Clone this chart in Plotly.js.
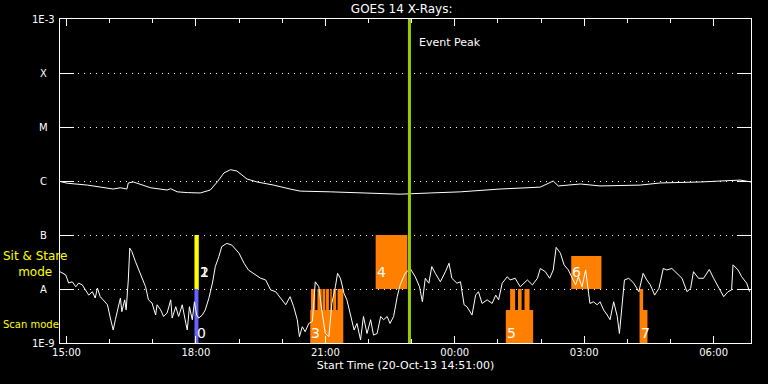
<!DOCTYPE html>
<html>
<head>
<meta charset="utf-8">
<script src="https://cdn.plot.ly/plotly-3.0.1.min.js"></script>
<style>html,body{margin:0;padding:0;background:#000;}#chart{width:768px;height:384px;}</style>
</head>
<body>
<div id="chart"></div>
<script>
// ---------- DATA ----------
// GOES 14 long channel (1-8 A), flux W/m^2
const longTime = ['14:51','15:01','15:29','16:05','16:15','16:24','16:26','16:33','16:57','17:20','17:25','17:34','17:48','18:06','18:20','18:30','18:39','18:48','18:57','19:11','19:25','19:48','20:11','20:25','21:07','21:49','22:44','23:26','00:08','01:03','01:59','02:17','02:24','02:55','03:22','04:18','04:46','05:42','06:37','06:52'];
const longFlux = [9.8e-7,9.1e-7,8.4e-7,7.1e-7,7.5e-7,7.1e-7,9.2e-7,9.6e-7,7.5e-7,6.8e-7,7.2e-7,6.3e-7,6.1e-7,6.0e-7,6.8e-7,9.7e-7,1.41e-6,1.62e-6,1.53e-6,1.09e-6,9.6e-7,8.4e-7,7.1e-7,6.5e-7,6.3e-7,6.0e-7,5.7e-7,6.0e-7,6.3e-7,7.1e-7,7.7e-7,1.0e-6,8.1e-7,8.8e-7,8.1e-7,8.4e-7,9.2e-7,9.6e-7,1.04e-6,9.6e-7];

// GOES 14 short channel (0.5-4 A), flux W/m^2
const shortTime = ['14:51','14:59','15:03','15:08','15:13','15:17','15:22','15:26','15:31','15:36','15:40','15:43','15:47','15:51','15:57','16:01','16:05','16:08','16:12','16:15','16:17','16:21','16:23','16:26','16:28','16:31','16:36','16:43','16:50','16:54','16:59','17:04','17:06','17:11','17:15','17:20','17:25','17:27','17:32','17:36','17:41','17:46','17:48','17:51','17:55','17:58','18:01','18:04','18:09','18:13','18:18','18:23','18:27','18:32','18:36','18:43','18:50','19:00','19:07','19:13','19:20','19:30','19:37','19:44','19:51','19:58','20:05','20:11','20:16','20:21','20:24','20:28','20:32','20:37','20:42','20:46','20:51','20:55','21:00','21:05','21:09','21:14','21:17','21:21','21:26','21:30','21:35','21:40','21:44','21:49','21:53','21:58','22:03','22:07','22:12','22:17','22:21','22:26','22:30','22:35','22:40','22:44','22:51','22:58','23:05','23:11','23:15','23:19','23:24','23:28','23:33','23:40','23:47','23:52','23:56','00:03','00:08','00:13','00:17','00:24','00:29','00:33','00:38','00:45','00:52','00:57','01:01','01:06','01:13','01:17','01:24','01:31','01:41','01:48','01:55','01:59','02:06','02:12','02:17','02:21','02:27','02:32','02:38','02:43','02:48','02:52','02:57','03:02','03:05','03:08','03:13','03:18','03:22','03:27','03:32','03:36','03:41','03:46','03:49','03:53','03:56','04:02','04:09','04:16','04:22','04:27','04:32','04:38','04:44','04:50','04:55','05:02','05:09','05:16','05:23','05:28','05:32','05:39','05:46','05:54','06:00','06:07','06:14','06:20','06:25','06:27','06:34','06:39','06:46','06:50'];
const shortFlux = [2.09e-8,1.82e-8,1.29e-8,1.36e-8,1.10e-8,1.29e-8,1.19e-8,9.6e-9,7.7e-9,8.9e-9,6.8e-9,1.04e-8,7.2e-9,6.3e-9,5.1e-9,2.9e-9,1.74e-9,2.7e-9,4.7e-9,6.8e-9,3.8e-9,6.3e-9,4.1e-9,1.47e-8,5.7e-8,4.9e-8,3.2e-8,1.82e-8,1.10e-8,6.3e-9,5.5e-9,3.3e-9,5.1e-9,4.1e-9,3.1e-9,3.6e-9,6.3e-9,2.9e-9,4.7e-9,3.1e-9,5.1e-9,2.3e-9,1.74e-9,4.7e-9,2.7e-9,5.8e-9,3.3e-9,2.9e-9,3.3e-9,4.1e-9,6.7e-9,1.29e-8,2.6e-8,4.0e-8,6.1e-8,7.0e-8,6.5e-8,4.6e-8,3.0e-8,2.25e-8,1.95e-8,1.58e-8,1.47e-8,9.6e-9,8.9e-9,6.7e-9,5.1e-9,7.2e-9,4.7e-9,2.7e-9,1.31e-9,2.0e-9,1.62e-9,2.3e-9,2.5e-9,1.36e-8,1.10e-8,4.1e-9,1.5e-9,1.31e-9,5.4e-9,1.10e-8,1.95e-8,1.58e-8,8.3e-9,6.3e-9,3.1e-9,1.74e-9,2.3e-9,1.14e-9,3.1e-9,1.5e-9,2.7e-9,1.4e-9,1.5e-9,3.1e-9,2.7e-9,3.1e-9,2.3e-9,3.1e-9,7.2e-9,1.19e-8,1.95e-8,2.4e-8,1.69e-8,1.10e-8,5.8e-9,1.58e-8,1.28e-8,2.6e-8,1.95e-8,1.36e-8,2.09e-8,3.0e-8,1.58e-8,1.28e-8,1.36e-8,5.1e-9,4.7e-9,3.3e-9,7.7e-9,8.9e-9,5.4e-9,6.3e-9,5.4e-9,7.7e-9,6.3e-9,1.28e-8,1.69e-8,1.47e-8,1.58e-8,1.10e-8,1.47e-8,1.19e-8,1.58e-8,2.4e-8,2.09e-8,1.58e-8,2.25e-8,5.9e-8,4.6e-8,2.8e-8,2.25e-8,1.58e-8,1.19e-8,1.69e-8,1.10e-8,2.25e-8,1.10e-8,5.4e-9,5.8e-9,5.1e-9,5.8e-9,4.1e-9,3.3e-9,2.7e-9,5.8e-9,3.1e-9,1.5e-9,6.3e-9,1.47e-8,1.58e-8,1.28e-8,8.9e-9,1.95e-8,1.47e-8,1.19e-8,7.7e-9,1.03e-8,2.4e-8,2.25e-8,2.4e-8,1.95e-8,1.58e-8,8.9e-9,1.03e-8,2.09e-8,1.58e-8,1.58e-8,2.3e-8,1.58e-8,1.10e-8,7.2e-9,8.9e-9,9.6e-9,2.8e-8,2.25e-8,1.69e-8,1.28e-8,8.9e-9];

// Observation timeline: scan-mode rasters (base level 1E-9)
const SCAN_BASE = 1e-9;
const scanStart = ['20:39','20:40','20:49','20:56','21:01','21:07','21:11','21:17','01:11','01:17','01:28','01:37','04:17','04:17'];
const scanEnd   = ['21:25','20:46','20:55','21:00','21:05','21:09','21:15','21:25','01:49','01:24','01:33','01:44','04:22','04:28'];
const scanTop   = [4.1e-9,1e-8,1e-8,1e-8,1e-8,1e-8,1e-8,1e-8,4.1e-9,1e-8,1e-8,1e-8,1e-8,4.1e-9];
// Sit & stare observations (base level A = 1E-8)
const STARE_BASE = 1e-8;
const stareStart = ['22:10','02:42'];
const stareEnd   = ['22:54','03:24'];
const stareTop   = [1e-7,4.1e-8];
// currently selected observations at 18:00
const selScanStart = ['17:58'], selScanEnd = ['18:03:30'], selScanTop = [1e-8];
const selStareStart = ['17:58'], selStareEnd = ['18:04'], selStareTop = [1e-7];

// observation numbers
const obsLabel = ['0','1','2','3','4','5','6','7'];
const obsLabelTime = ['18:00','18:05','18:05','20:39','22:10','01:11','02:42','04:17'];
const obsLabelMode = ['scan','stare','stare','scan','stare','scan','stare','scan'];

const eventPeak = '22:57';
const yTickVals = [1e-9,1e-8,1e-7,1e-6,1e-5,1e-4,1e-3];
const yTickText = ['1E-9','A','B','C','M','X','1E-3'];

// ---------- HELPERS ----------
function T(hm){ const h = parseInt(hm.slice(0,2),10); return (h < 12 ? '2013-10-21 ' : '2013-10-20 ') + hm; }
function rects(starts, ends, base, tops){
  const x = [], y = [];
  for (let i = 0; i < starts.length; i++){
    x.push(T(starts[i]), T(starts[i]), T(ends[i]), T(ends[i]), T(starts[i]), null);
    y.push(base, tops[i], tops[i], base, base, null);
  }
  return {x, y};
}
function boxTrace(r, color){
  return {x: r.x, y: r.y, type: 'scatter', mode: 'lines', fill: 'toself', fillcolor: color,
          line: {width: 0, color: color}, hoverinfo: 'skip', connectgaps: false};
}

const ORANGE = '#ff8000';
const traces = [
  boxTrace(rects(scanStart, scanEnd, SCAN_BASE, scanTop), ORANGE),
  boxTrace(rects(stareStart, stareEnd, STARE_BASE, stareTop), ORANGE),
  boxTrace(rects(selScanStart, selScanEnd, SCAN_BASE, selScanTop), '#6464ff'),
  boxTrace(rects(selStareStart, selStareEnd, STARE_BASE, selStareTop), '#ffff00'),
  {x: longTime.map(T), y: longFlux, type: 'scatter', mode: 'lines', line: {color: 'white', width: 1}},
  {x: shortTime.map(T), y: shortFlux, type: 'scatter', mode: 'lines', line: {color: 'white', width: 1}}
];

const annotations = obsLabel.map((t, i) => ({
  x: T(obsLabelTime[i]), y: obsLabelMode[i] === 'scan' ? Math.log10(1.5e-9) : Math.log10(2.07e-8),
  xref: 'x', yref: 'y', text: t, showarrow: false, xanchor: 'left', yanchor: 'middle',
  font: {family: 'DejaVu Sans', size: 14, color: 'white'}, borderpad: 0
}));
// y tick labels, centred in the left margin
yTickVals.forEach((v, i) => annotations.push({
  x: -0.0232, y: Math.log10(v), xref: 'paper', yref: 'y', text: yTickText[i], showarrow: false,
  xanchor: 'center', yanchor: 'middle', font: {family: 'DejaVu Sans', size: 10, color: 'white'}
}));
annotations.push(
  {x: T(eventPeak), y: 0.9275, xref: 'x', yref: 'paper', text: 'Event Peak', showarrow: false,
   xanchor: 'left', yanchor: 'middle', xshift: 8, font: {family: 'DejaVu Sans', size: 11, color: 'white'}},
  {x: -0.086, y: Math.log10(2.9e-8), xref: 'paper', yref: 'y', text: 'Sit & Stare<br>mode', showarrow: false,
   xanchor: 'left', yanchor: 'middle', align: 'center', font: {family: 'DejaVu Sans', size: 12, color: '#ffff00'}},
  {x: -0.086, y: Math.log10(2.2e-9), xref: 'paper', yref: 'y', text: 'Scan mode', showarrow: false,
   xanchor: 'left', yanchor: 'middle', font: {family: 'DejaVu Sans', size: 10, color: '#ffff00'}}
);

const layout = {
  width: 768, height: 384,
  paper_bgcolor: 'black', plot_bgcolor: 'black',
  margin: {l: 60, r: 17, t: 19, b: 41, pad: 0},
  showlegend: false,
  font: {family: 'DejaVu Sans', color: 'white', size: 10},
  title: {text: 'GOES 14 X-Rays:', font: {family: 'DejaVu Sans', size: 12, color: 'white'},
          x: 0.523, xref: 'container', xanchor: 'center', y: 0.978, yref: 'container', yanchor: 'middle'},
  xaxis: {
    type: 'date', range: [T('14:51'), T('06:52')],
    showline: true, linecolor: 'white', linewidth: 1, mirror: 'ticks',
    ticks: 'inside', ticklen: 7, tickcolor: 'white', tickwidth: 1,
    tick0: '2013-10-20 15:00', dtick: 3 * 3600000, tickformat: '%H:%M',
    minor: {tick0: '2013-10-20 15:00', dtick: 3600000, ticks: 'inside', ticklen: 4, tickcolor: 'white', showgrid: false},
    showgrid: false, zeroline: false,
    tickfont: {size: 10, color: 'white'},
    title: {text: 'Start Time (20-Oct-13 14:51:00)', font: {size: 11, color: 'white'}, standoff: 4}
  },
  yaxis: {
    type: 'log', range: [-9, -3],
    tickmode: 'array', tickvals: yTickVals, ticktext: yTickText, showticklabels: false,
    showline: true, linecolor: 'white', linewidth: 1, mirror: 'ticks',
    ticks: 'inside', ticklen: 14, tickcolor: 'white', tickwidth: 1,
    showgrid: true, gridcolor: 'white', gridwidth: 1, griddash: '1px,5px',
    zeroline: false
  },
  shapes: [{type: 'line', xref: 'x', yref: 'paper', x0: T(eventPeak), x1: T(eventPeak), y0: 0, y1: 1,
            line: {color: '#99cc00', width: 3}}],
  annotations: annotations
};

Plotly.newPlot('chart', traces, layout, {displayModeBar: false, staticPlot: true});
</script>
</body>
</html>
